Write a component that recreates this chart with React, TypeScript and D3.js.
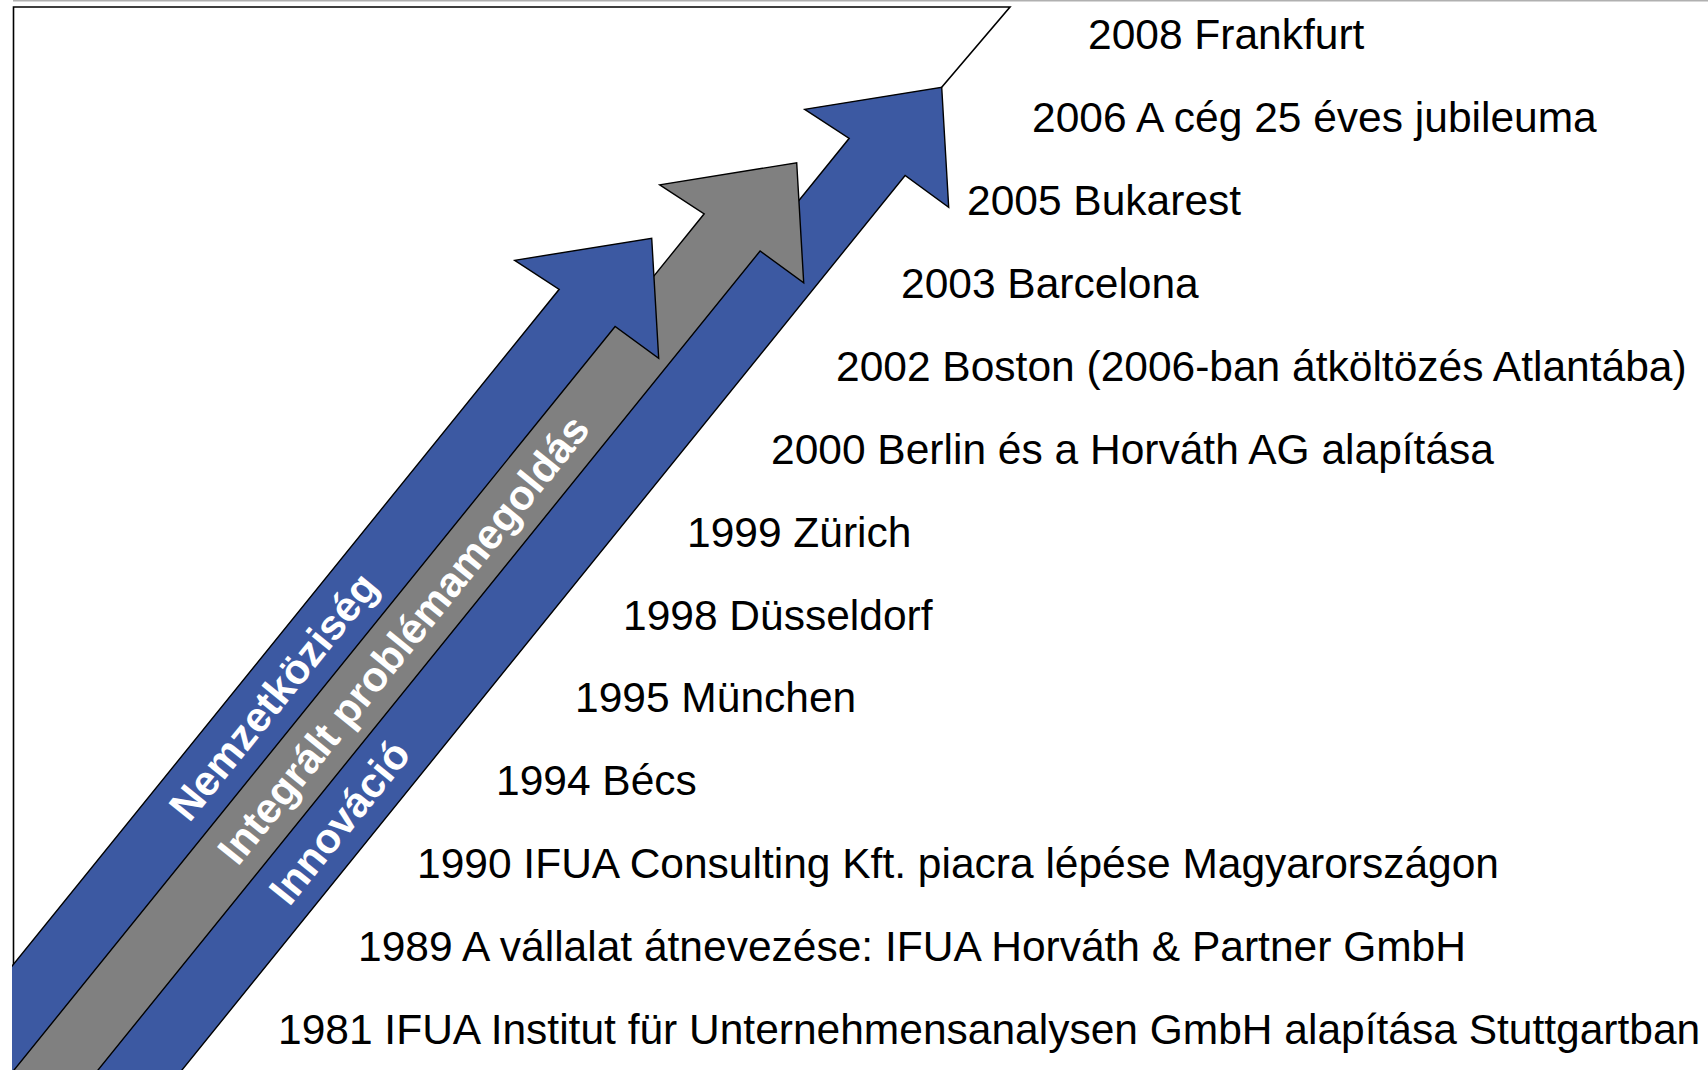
import React from "react";
import * as d3 from "d3";

// milestones, oldest first
const years = [1981, 1989, 1990, 1994, 1995, 1998, 1999, 2000, 2002, 2003, 2005, 2006, 2008];
const events = [
  "IFUA Institut für Unternehmensanalysen GmbH alapítása Stuttgartban",
  "A vállalat átnevezése: IFUA Horváth & Partner GmbH",
  "IFUA Consulting Kft. piacra lépése Magyarországon",
  "Bécs",
  "München",
  "Düsseldorf",
  "Zürich",
  "Berlin és a Horváth AG alapítása",
  "Boston (2006-ban átköltözés Atlantába)",
  "Barcelona",
  "Bukarest",
  "A cég 25 éves jubileuma",
  "Frankfurt",
];

// the three arrows, left to right
const themes = ["Nemzetköziség", "Integrált problémamegoldás", "Innováció"];
const themeColors = ["#3c59a2", "#808080", "#3c59a2"];

// layout (reference pixels)
const W = 1708;
const H = 1070;
const rowIndent = [278, 358, 417, 496, 575, 623, 687, 771, 836, 901, 967, 1032, 1088];
const labelDist = [594, 618, 950];
const head = { lw: [-137, 22], rw: [7, 120], nr: [-36.6, 88.2], nl: [-92.5, 51] };
const dir = [-0.6287, 0.7777]; // shaft runs down-left
const angle = (Math.atan2(-dir[1], -dir[0]) * 180) / Math.PI;

const rowY = d3.scalePoint<number>().domain(years).range([1044, 49.3]);
const tipX = d3.scaleLinear().domain([0, themes.length - 1]).range([651.7, 941.7]);
const tipY = d3.scaleLinear().domain([0, themes.length - 1]).range([238.3, 87.3]);

const line = d3.line<number[]>().x((d) => d[0]).y((d) => d[1]);

function arrowPoints(i: number) {
  const tx = tipX(i);
  const ty = tipY(i);
  const p = (o: number[]) => [tx + o[0], ty + o[1]];
  const L = 1600;
  const nr = p(head.nr);
  const nl = p(head.nl);
  return [
    [tx, ty],
    p(head.rw),
    nr,
    [nr[0] + dir[0] * L, nr[1] + dir[1] * L],
    [nl[0] + dir[0] * L, nl[1] + dir[1] * L],
    nl,
    p(head.lw),
  ];
}

function labelPos(i: number) {
  const cx = tipX(i) - 5 + dir[0] * labelDist[i];
  const cy = tipY(i) - 4 + dir[1] * labelDist[i];
  return [cx, cy];
}

const font = "'Liberation Sans', Arial, Helvetica, sans-serif";

export default function App() {
  const order = [2, 1, 0];
  const last = themes.length - 1;
  return (
    <div style={{ position: "absolute", left: 0, top: 0, background: "#fff" }}>
      <svg width={W} height={H} style={{ display: "block" }}>
        <defs>
          <clipPath id="arrowClip">
            <rect x={12} y={0} width={W} height={H} />
          </clipPath>
        </defs>
        <line x1={13} x2={W} y1={0.7} y2={0.7} stroke="#b0b0b0" strokeWidth={1.5} />
        <polyline
          points={`13.5,${H} 13.5,7 1010,7 ${tipX(last)},${tipY(last)}`}
          fill="none"
          stroke="#000"
          strokeWidth={1.6}
        />
        <g clipPath="url(#arrowClip)">
          {order.map((i) => (
            <path
              key={i}
              d={line(arrowPoints(i)) + "Z"}
              fill={themeColors[i]}
              stroke="#000"
              strokeWidth={1.4}
              strokeLinejoin="miter"
            />
          ))}
        </g>
        {themes.map((t, i) => {
          const [cx, cy] = labelPos(i);
          return (
            <text
              key={t}
              transform={`translate(${cx},${cy}) rotate(${angle})`}
              textAnchor="middle"
              dy="0.35em"
              fill="#fff"
              fontFamily={font}
              fontWeight="bold"
              fontSize={42}
            >
              {t}
            </text>
          );
        })}
        {years.map((y, i) => (
          <text
            key={y}
            x={rowIndent[i]}
            y={rowY(y)}
            fill="#000"
            fontFamily={font}
            fontSize={42.5}
          >
            {y} {events[i]}
          </text>
        ))}
      </svg>
    </div>
  );
}
